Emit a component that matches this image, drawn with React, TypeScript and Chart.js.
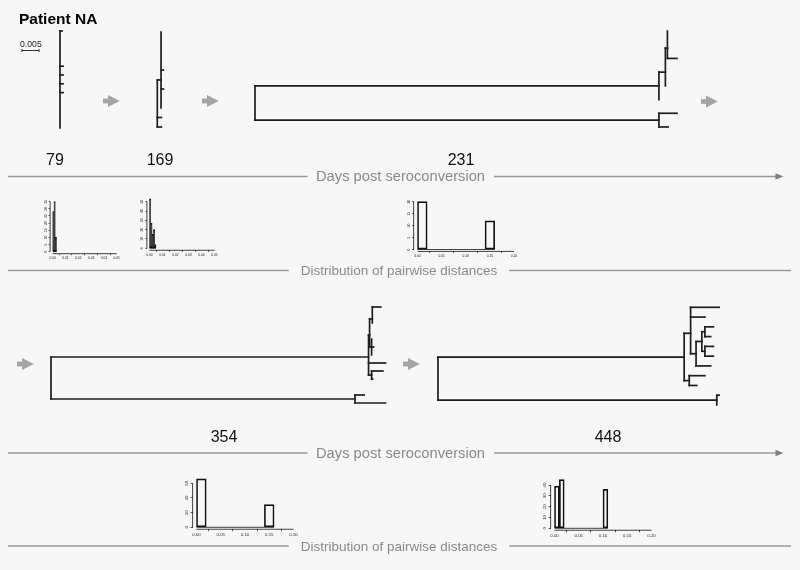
import React, { useEffect, useRef } from 'react';
import { Chart, registerables } from 'chart.js';

Chart.register(...registerables);

// ---------------- DATA ----------------
const TITLE = 'Patient NA';
const DAY_LABELS = ['79', '169', '231', '354', '448'];
const AXIS_TITLE = 'Days post seroconversion';
const HIST_TITLE = 'Distribution of pairwise distances';
const SCALE_BAR_VALUE = 0.005;
const SCALE_BAR_LABEL = '0.005';

// Trees: [parent index, depth from root (subst./site), vertical tip position]
const TREE_79 = [
  [-1, 0, 6.5],
  [0, 0.0006, 1], [0, 0, 2], [0, 0, 3], [0, 0, 4],
  [0, 0.0009, 5], [0, 0.0009, 6], [0, 0.0009, 7], [0, 0.0009, 8],
  [0, 0, 9], [0, 0, 10], [0, 0, 11], [0, 0, 12],
];
const TREE_169 = [
  [-1, 0, 8.5],
  [0, 0.0011, 6.05],
  [1, 0.0011, 1], [1, 0.0011, 2], [1, 0.0011, 3], [1, 0.0011, 4], [1, 0.0018, 5],
  [1, 0.0011, 6], [1, 0.0018, 7], [1, 0.0011, 8], [1, 0.0011, 9],
  [0, 0.0012, 10], [0, 0.0012, 11],
];
const TREE_231 = [
  [-1, 0, 6.25],
  [0, 0.1188, 5],
  [1, 0.1207, 4],
  [2, 0.1213, 2.25],
  [3, 0.1213, 1], [3, 0.1213, 2], [3, 0.1241, 3],
  [2, 0.1207, 4], [2, 0.1207, 5],
  [1, 0.1188, 6],
  [0, 0.1188, 7.5],
  [10, 0.1241, 7], [10, 0.1215, 8],
];
const TREE_354 = [
  [-1, 0, 10],
  [0, 0.0934, 7.25],
  [1, 0.0937, 4.5],
  [2, 0.0945, 2.5],
  [3, 0.0970, 1], [3, 0.0945, 2], [3, 0.0945, 3],
  [2, 0.0937, 4],
  [2, 0.0943, 6],
  [8, 0.0943, 5], [8, 0.0949, 6], [8, 0.0943, 7],
  [1, 0.0984, 8],
  [1, 0.0943, 9.5],
  [13, 0.0976, 9], [13, 0.0946, 10],
  [0, 0.0894, 12.5],
  [16, 0.0921, 12], [16, 0.0984, 13],
];
const TREE_448 = [
  [-1, 0, 8],
  [0, 0.0724, 6.1],
  [1, 0.0743, 3.66],
  [2, 0.0827, 1], [2, 0.0785, 2],
  [2, 0.0759, 5.75],
  [5, 0.0776, 4.5],
  [6, 0.0785, 3.5],
  [7, 0.0810, 3], [7, 0.0802, 4],
  [6, 0.0785, 5.5],
  [10, 0.0810, 5], [10, 0.0810, 6],
  [5, 0.0802, 7],
  [1, 0.0739, 8.5],
  [14, 0.0785, 8], [14, 0.0761, 9],
  [0, 0.0820, 10.5],
  [17, 0.0827, 10], [17, 0.0820, 11],
];

// Histograms of pairwise distances (counts per bin, starting at 0)
const HIST_79_COUNTS = [28, 35, 10];
const HIST_79_BIN = 0.001;
const HIST_169_COUNTS = [53, 27, 15, 20, 4];
const HIST_169_BIN = 0.001;
const HIST_231_COUNTS = [20, 0, 0, 0, 0, 0, 0, 12];
const HIST_231_BIN = 0.02;
const HIST_354_COUNTS = [66, 0, 0, 0, 0, 0, 0, 31];
const HIST_354_BIN = 0.02;
const HIST_448_COUNTS = [39, 45, 0, 0, 0, 0, 0, 0, 0, 0, 36];
const HIST_448_BIN = 0.01;

const X_TICKS_NARROW = [0, 0.01, 0.02, 0.03, 0.04, 0.05];
const X_LABELS_NARROW = ['0.00', '0.01', '0.02', '0.03', '0.04', '0.05'];
const X_TICKS_WIDE = [0, 0.05, 0.1, 0.15, 0.2];
const X_LABELS_WIDE = ['0.00', '0.05', '0.10', '0.15', '0.20'];
const Y_TICKS_79 = [0, 5, 10, 15, 20, 25, 30, 35];
const Y_TICKS_169 = [0, 10, 20, 30, 40, 50];
const Y_TICKS_231 = [0, 5, 10, 15, 20];
const Y_TICKS_354 = [0, 20, 40, 60];
const Y_TICKS_448 = [0, 10, 20, 30, 40];

// ---------------- LAYOUT / STYLE ----------------
const FONT = '"Liberation Sans", Arial, Helvetica, sans-serif';
const BG = '#f7f7f7';
const PPU = 3400; // tree px per subst./site
const TREE_COLOR = '#1e1e1e';

const TREE_LAYOUT = [
  { nodes: TREE_79, nTips: 12, rootX: 60, tipTop: 31, tipStep: 8.8 },
  { nodes: TREE_169, nTips: 11, rootX: 157.3, tipTop: 32, tipStep: 9.5 },
  { nodes: TREE_231, nTips: 8, rootX: 255, tipTop: 31, tipStep: 13.71 },
  { nodes: TREE_354, nTips: 13, rootX: 51, tipTop: 307, tipStep: 8 },
  { nodes: TREE_448, nTips: 11, rootX: 438, tipTop: 307.3, tipStep: 9.77 },
];

const HIST_LAYOUT = [
  { counts: HIST_79_COUNTS, bin: HIST_79_BIN, xTicks: X_TICKS_NARROW, xLabels: X_LABELS_NARROW, yTicks: Y_TICKS_79, x0: 52.7, x1: 116.7, y0: 251.7, yTop: 201.7, font: 3.3, tl: 1.5 },
  { counts: HIST_169_COUNTS, bin: HIST_169_BIN, xTicks: X_TICKS_NARROW, xLabels: X_LABELS_NARROW, yTicks: Y_TICKS_169, x0: 149.5, x1: 214.5, y0: 248.3, yTop: 201.7, font: 3.3, tl: 1.5 },
  { counts: HIST_231_COUNTS, bin: HIST_231_BIN, xTicks: X_TICKS_WIDE, xLabels: X_LABELS_WIDE, yTicks: Y_TICKS_231, x0: 417.5, x1: 514, y0: 249.5, yTop: 201.7, font: 3.3, tl: 1.5 },
  { counts: HIST_354_COUNTS, bin: HIST_354_BIN, xTicks: X_TICKS_WIDE, xLabels: X_LABELS_WIDE, yTicks: Y_TICKS_354, x0: 196.5, x1: 293.5, y0: 527.3, yTop: 483.3, font: 4.3, tl: 2 },
  { counts: HIST_448_COUNTS, bin: HIST_448_BIN, xTicks: X_TICKS_WIDE, xLabels: X_LABELS_WIDE, yTicks: Y_TICKS_448, x0: 554.5, x1: 651.5, y0: 528.3, yTop: 485, font: 4.3, tl: 2 },
];

const DAY_POS = [
  [55, 165], [160, 165], [461, 165], [224, 442], [608, 442],
];
const GRAY_ARROWS = [
  [103, 101], [202, 101], [701, 101.5], [17, 364], [403, 364],
];
const TIMELINE_ROWS = [176.5, 453];
const HIST_ROWS = [270.5, 546];

// ---------------- COMPONENTS ----------------
function DecorChart() {
  const ref = useRef<HTMLCanvasElement>(null);
  useEffect(() => {
    const decor = {
      id: 'decor',
      beforeDraw(chart: any) {
        const ctx = chart.ctx;
        ctx.save();
        ctx.fillStyle = BG;
        ctx.fillRect(0, 0, chart.width, chart.height);
        ctx.restore();
      },
      afterDraw(chart: any) {
        const ctx = chart.ctx as CanvasRenderingContext2D;
        ctx.save();
        // title
        ctx.fillStyle = '#000';
        ctx.font = `bold 15.5px ${FONT}`;
        ctx.textAlign = 'left';
        ctx.textBaseline = 'alphabetic';
        ctx.fillText(TITLE, 19, 24);
        // scale bar
        ctx.font = `8.7px ${FONT}`;
        ctx.fillStyle = '#222';
        ctx.fillText(SCALE_BAR_LABEL, 20, 46.5);
        const sbL = 22, sbR = 22 + SCALE_BAR_VALUE * PPU, sbY = 50.5;
        ctx.strokeStyle = '#333';
        ctx.lineWidth = 1;
        ctx.beginPath();
        ctx.moveTo(sbL, sbY); ctx.lineTo(sbR, sbY);
        ctx.moveTo(sbL, sbY - 1.5); ctx.lineTo(sbL, sbY + 1.5);
        ctx.moveTo(sbR, sbY - 1.5); ctx.lineTo(sbR, sbY + 1.5);
        ctx.stroke();
        // gray arrows
        ctx.fillStyle = '#a4a4a4';
        GRAY_ARROWS.forEach(([x, cy]) => {
          ctx.fillRect(x, cy - 2.4, 5.5, 4.8);
          ctx.beginPath();
          ctx.moveTo(x + 5, cy - 6);
          ctx.lineTo(x + 16.8, cy);
          ctx.lineTo(x + 5, cy + 6);
          ctx.closePath();
          ctx.fill();
        });
        // day labels
        ctx.fillStyle = '#111';
        ctx.font = `16px ${FONT}`;
        ctx.textAlign = 'center';
        DAY_LABELS.forEach((d, i) => ctx.fillText(d, DAY_POS[i][0], DAY_POS[i][1]));
        // timelines
        ctx.strokeStyle = '#9a9a9a';
        ctx.lineWidth = 1.4;
        ctx.font = `14.7px ${FONT}`;
        const tw = ctx.measureText(AXIS_TITLE).width;
        TIMELINE_ROWS.forEach((y) => {
          ctx.fillStyle = '#8a8a8a';
          ctx.fillText(AXIS_TITLE, 400.5, y + 4.5);
          ctx.beginPath();
          ctx.moveTo(8, y); ctx.lineTo(400.5 - tw / 2 - 8.5, y);
          ctx.moveTo(400.5 + tw / 2 + 9, y); ctx.lineTo(777, y);
          ctx.stroke();
          ctx.fillStyle = '#808080';
          ctx.beginPath();
          ctx.moveTo(775.5, y - 3.3);
          ctx.lineTo(783.5, y);
          ctx.lineTo(775.5, y + 3.3);
          ctx.closePath();
          ctx.fill();
        });
        ctx.font = `13.5px ${FONT}`;
        const hw = ctx.measureText(HIST_TITLE).width;
        HIST_ROWS.forEach((y) => {
          ctx.fillStyle = '#8a8a8a';
          ctx.fillText(HIST_TITLE, 399, y + 4.5);
          ctx.beginPath();
          ctx.moveTo(8, y); ctx.lineTo(399 - hw / 2 - 12, y);
          ctx.moveTo(399 + hw / 2 + 12, y); ctx.lineTo(791, y);
          ctx.stroke();
        });
        ctx.restore();
      },
    };
    const chart = new Chart(ref.current as HTMLCanvasElement, {
      type: 'scatter',
      data: { datasets: [] },
      options: {
        responsive: false,
        animation: false,
        events: [],
        scales: { x: { display: false }, y: { display: false } },
        plugins: { legend: { display: false }, tooltip: { enabled: false } },
      },
      plugins: [decor],
    } as any);
    return () => chart.destroy();
  }, []);
  return (
    <canvas ref={ref} width={800} height={570}
      style={{ position: 'absolute', left: 0, top: 0, width: 800, height: 570 }} />
  );
}

function TreeChart({ cfg }: { cfg: any }) {
  const ref = useRef<HTMLCanvasElement>(null);
  const { nodes, nTips, rootX, tipTop, tipStep } = cfg;
  const maxDepth = Math.max(...nodes.map((n: number[]) => n[1]));
  const pad = 4;
  const left = Math.floor(rootX - pad);
  const top = Math.floor(tipTop - pad);
  const padL = rootX - left;
  const padT = tipTop - top;
  const width = Math.ceil(padL + maxDepth * PPU + pad);
  const height = Math.ceil(padT + (nTips - 1) * tipStep + pad);
  const padR = width - padL - maxDepth * PPU;
  const padB = height - padT - (nTips - 1) * tipStep;

  useEffect(() => {
    const segs: any[] = [];
    nodes.forEach((n: number[], i: number) => {
      const [p, d, y] = n;
      if (p >= 0 && d > nodes[p][1]) {
        segs.push([{ x: nodes[p][1], y }, { x: d, y }]);
      }
      const kids = nodes.filter((c: number[]) => c[0] === i);
      if (kids.length) {
        const ys = kids.map((c: number[]) => c[2]);
        segs.push([{ x: d, y: Math.min(...ys) }, { x: d, y: Math.max(...ys) }]);
      }
    });
    const chart = new Chart(ref.current as HTMLCanvasElement, {
      type: 'scatter',
      data: {
        datasets: segs.map((s) => ({
          data: s,
          showLine: true,
          borderColor: TREE_COLOR,
          borderWidth: 1.7,
          borderCapStyle: 'square',
          pointRadius: 0,
          clip: false,
        })),
      },
      options: {
        responsive: false,
        animation: false,
        events: [],
        layout: { padding: { left: padL, top: padT, right: padR, bottom: padB } },
        scales: {
          x: { type: 'linear', display: false, min: 0, max: maxDepth },
          y: { type: 'linear', display: false, min: 1, max: nTips, reverse: true },
        },
        plugins: { legend: { display: false }, tooltip: { enabled: false } },
      },
    } as any);
    return () => chart.destroy();
  }, []);
  return (
    <canvas ref={ref} width={width} height={height}
      style={{ position: 'absolute', left, top, width, height }} />
  );
}

function HistChart({ cfg }: { cfg: any }) {
  const ref = useRef<HTMLCanvasElement>(null);
  const { counts, bin, xTicks, xLabels, yTicks, x0, x1, y0, yTop, font, tl } = cfg;
  const xa = xTicks[0];
  const xb = xTicks[xTicks.length - 1];
  const xr = xb - xa;
  const kx = (x1 - x0) / xr;
  const yMax = Math.max(...counts);
  const ky = (y0 - yTop) / yTicks[yTicks.length - 1];
  const plotL = x0 - 0.04 * xr * kx;
  const plotR = x1 + 0.04 * xr * kx;
  const plotT = y0 - 1.04 * yMax * ky;
  const plotB = y0 + 0.04 * yMax * ky;
  const left = Math.floor(plotL - 14);
  const top = Math.floor(plotT - 5);
  const right = Math.ceil(plotR + 8);
  const bottom = Math.ceil(plotB + 12);
  const width = right - left;
  const height = bottom - top;
  const narrow = bin * kx < 3;

  useEffect(() => {
    const axesPlugin = {
      id: 'raxes',
      afterDatasetsDraw(chart: any) {
        const { ctx, chartArea, scales } = chart;
        const sx = scales.x, sy = scales.y;
        ctx.save();
        ctx.strokeStyle = '#111';
        ctx.lineWidth = 0.8;
        ctx.beginPath();
        ctx.moveTo(sx.getPixelForValue(xa), chartArea.bottom);
        ctx.lineTo(sx.getPixelForValue(xb), chartArea.bottom);
        ctx.moveTo(chartArea.left, sy.getPixelForValue(yTicks[0]));
        ctx.lineTo(chartArea.left, sy.getPixelForValue(yTicks[yTicks.length - 1]));
        ctx.moveTo(sx.getPixelForValue(0), sy.getPixelForValue(0));
        ctx.lineTo(sx.getPixelForValue(counts.length * bin), sy.getPixelForValue(0));
        ctx.stroke();
        ctx.restore();
      },
    };
    const tickFont = { size: font, family: FONT };
    const chart = new Chart(ref.current as HTMLCanvasElement, {
      type: 'bar',
      data: {
        datasets: [{
          data: counts.map((c: number, i: number) => ({ x: (i + 0.5) * bin, y: c })),
          backgroundColor: narrow ? '#111' : 'rgba(0,0,0,0)',
          borderColor: '#111',
          borderWidth: 1,
          borderSkipped: false,
          categoryPercentage: 1,
          barPercentage: 1,
          clip: false,
        }],
      },
      options: {
        responsive: false,
        animation: false,
        events: [],
        layout: { padding: { left: 0, bottom: 0, top: plotT - top, right: right - plotR } },
        scales: {
          x: {
            type: 'linear',
            offset: false,
            min: xa - 0.04 * xr,
            max: xb + 0.04 * xr,
            afterBuildTicks: (s: any) => { s.ticks = xTicks.map((v: number) => ({ value: v })); },
            afterFit: (s: any) => { s.height = bottom - plotB; },
            border: { display: false },
            grid: { drawOnChartArea: false, drawTicks: true, tickLength: tl, color: '#111', lineWidth: 0.7 },
            ticks: {
              autoSkip: false, minRotation: 0, maxRotation: 0, padding: 1,
              font: tickFont, color: '#222',
              callback: (_v: any, i: number) => xLabels[i],
            },
          },
          y: {
            type: 'linear',
            min: -0.04 * yMax,
            max: 1.04 * yMax,
            afterBuildTicks: (s: any) => { s.ticks = yTicks.map((v: number) => ({ value: v })); },
            afterFit: (s: any) => { s.width = plotL - left; },
            border: { display: false },
            grid: { drawOnChartArea: false, drawTicks: true, tickLength: tl, color: '#111', lineWidth: 0.7 },
            ticks: {
              autoSkip: false, minRotation: 90, maxRotation: 90, crossAlign: 'center', padding: 1,
              font: tickFont, color: '#222',
              callback: (_v: any, i: number) => String(yTicks[i]),
            },
          },
        },
        plugins: { legend: { display: false }, tooltip: { enabled: false } },
      },
      plugins: [axesPlugin],
    } as any);
    return () => chart.destroy();
  }, []);
  return (
    <canvas ref={ref} width={width} height={height}
      style={{ position: 'absolute', left, top, width, height }} />
  );
}

export default function App() {
  return (
    <div style={{ position: 'fixed', left: 0, top: 0, width: 800, height: 570, overflow: 'hidden', background: BG }}>
      <DecorChart />
      {TREE_LAYOUT.map((t, i) => <TreeChart key={'t' + i} cfg={t} />)}
      {HIST_LAYOUT.map((h, i) => <HistChart key={'h' + i} cfg={h} />)}
    </div>
  );
}
